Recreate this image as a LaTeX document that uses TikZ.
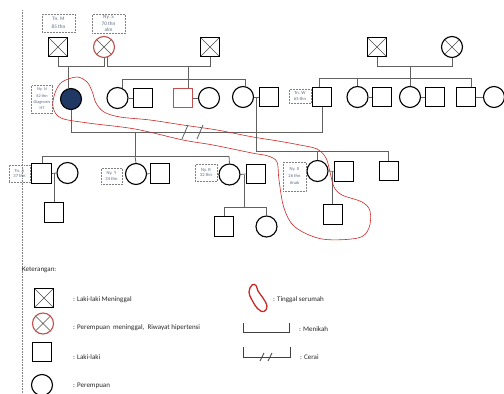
\documentclass[tikz,border=0pt]{standalone}
\usepackage{fontspec}
\setmainfont{Carlito}
\usetikzlibrary{calc}
\definecolor{redc}{RGB}{192,80,77}
\definecolor{navyc}{RGB}{31,56,100}
\definecolor{lblc}{RGB}{90,105,130}
\definecolor{lpc}{RGB}{205,40,40}
\begin{document}
\begin{tikzpicture}[x=1pt,y=-1pt,
  shp/.style={draw=black, line width=1.1pt, inner sep=0pt, fill=white},
  male/.style={shp, rectangle, minimum size=19.5pt},
  female/.style={shp, circle, minimum size=21pt},
  xcross/.style={path picture={\draw[line width=0.5pt, black!70]
      (path picture bounding box.south west) -- (path picture bounding box.north east)
      (path picture bounding box.north west) -- (path picture bounding box.south east);}},
  deadm/.style={male, xcross},
  deadf/.style={female, xcross},
  conn/.style={draw=black!62, line width=0.8pt},
  lbl/.style={draw=black!50, densely dotted, line width=0.5pt, align=center,
      text=lblc, inner sep=0.5pt, font=\fontsize{4.6}{5.6}\selectfont},
  lblbig/.style={lbl, font=\fontsize{5.2}{8}\selectfont},
  legtxt/.style={anchor=west, font=\fontsize{7}{8}\selectfont, text=black!85, inner sep=0pt},
  loop/.style={draw=lpc, line width=0.6pt}
]
\useasboundingbox (0,0) rectangle (504,394);
\coordinate (vt) at (22,10);
\coordinate (vb) at (22,394);
\draw[black!50, densely dotted, line width=0.6pt] (vt) -- (vb);

% ---------- generation 1
\node[deadm] (tnM) at (58,47) {};
\node[deadf, draw=redc] (nyS) at (104,47) {};
\node[deadm] (gfB) at (210,47) {};
\node[deadm] (gfR) at (377,47) {};
\node[deadf] (gmR) at (452,47) {};

\node[lblbig, minimum width=33pt, minimum height=18pt] (lM) at (58.5,23) {Tn. M\\85 thn};
\node[lblbig, minimum width=33pt, minimum height=19pt, font=\fontsize{5.2}{6.4}\selectfont] (lS) at (108.5,23.5) {Ny. S\\70 thn\\alm};

% ---------- generation 2
\node[female, fill=navyc] (nyN) at (71,99) {};
\node[female] (c1) at (117.5,98) {};
\node[male] (s1) at (143,98) {};
\node[male, draw=redc] (rs) at (183,98) {};
\node[female] (c2) at (209,98) {};
\node[female] (c3) at (243,97) {};
\node[male] (s3) at (269,97) {};
\node[male] (tnW) at (322,97) {};
\node[female] (c4) at (357.5,97) {};
\node[male] (s4) at (382,97) {};
\node[female] (c5) at (410,97) {};
\node[male] (s5) at (435,97) {};
\node[male] (s6) at (466,97) {};
\node[female] (c6) at (494,97) {};

\node[lbl, minimum width=21pt, minimum height=28pt, font=\fontsize{4.3}{6.3}\selectfont] (lN) at (42,99) {Ny. N\\62 thn\\Diagnosis\\HT};
\node[lbl, minimum width=22pt, minimum height=14pt] (lW) at (300,96) {Tn. W\\65 thn};

% ---------- generation 3
\node[male] (tnA) at (41.5,173.5) {};
\node[female] (wA) at (67.5,173) {};
\node[female] (nyY) at (136,174) {};
\node[male] (hY) at (160,173.5) {};
\node[female] (nyR) at (229.5,174.5) {};
\node[male] (hR) at (256,174) {};
\node[female] (nyX) at (317.5,171) {};
\node[male] (hX) at (344,171.5) {};
\node[male] (s7) at (389,171) {};

\node[lbl, minimum width=21pt, minimum height=17pt] (lA) at (19.5,173.5) {Tn. A\\37 thn};
\node[lbl, minimum width=21pt, minimum height=16pt] (lY) at (111.5,176) {Ny. Y\\34 thn};
\node[lbl, minimum width=22pt, minimum height=17pt] (lR) at (206,172.5) {Ny. R\\32 thn};
\node[lbl, minimum width=23pt, minimum height=29pt, font=\fontsize{4.6}{7}\selectfont] (lX) at (294.5,176.5) {Ny. X\\26 thn\\Anak};

% ---------- generation 4
\node[male] (kA) at (54,212.5) {};
\node[male] (kR1) at (224,226.5) {};
\node[female] (kR2) at (266.5,226.5) {};
\node[male] (kX) at (333,214.5) {};

% ---------- connectors generation 1
\draw[conn] (tnM.south) -- ++(0,9) -| (nyS.south);
\draw[conn] (nyS.-70) -- ++(0,9.2) -| (gfB.south);
\coordinate (pB) at (188,66);
\coordinate (sbL) at (122,79);
\coordinate (sbR) at (245,79);
\draw[conn] (pB) -- (pB |- sbL);
\draw[conn] (sbL) -- (sbR);
\draw[conn] (sbL) -- (sbL |- c1.65);
\draw[conn] (pB |- sbL) -- (pB |- rs.north);
\draw[conn] (sbR) -- (sbR |- c3.80);
\coordinate (pN) at (68,66);
\draw[conn] (pN) -- (pN |- nyN.100);

\draw[conn] (gfR.south) -- ++(0,9) -| (gmR.south);
\coordinate (pR) at (410,66);
\coordinate (srL) at (319,78);
\coordinate (srR) at (471,78);
\draw[conn] (srL) -- (srR);
\draw[conn] (pR) -- (c5.north);
\draw[conn] (srL) -- (srL |- tnW.north);
\draw[conn] (srL -| c4.north) -- (c4.north);
\draw[conn] (srR) -- (srR |- s6.north);

% couples gen 2
\draw[conn] (c1.east) -- (s1.west);
\draw[conn] (rs.east) -- (c2.west);
\draw[conn] (c3.east) -- (s3.west);
\draw[conn] (c4.east) -- (s4.west);
\draw[conn] (c5.east) -- (s5.west);
\draw[conn] (s6.east) -- (c6.west);

% marriage Ny N - Tn W (divorced)
\draw[conn] (nyN.south) -- ++(0,22) -| (tnW.south);
\coordinate (d1) at (185,132);
\coordinate (d2) at (200,132);
\draw[conn] (d1) ++(-3,7) -- ++(6,-14);
\draw[conn] (d2) ++(-3,7) -- ++(6,-14);

% children of Ny N
\coordinate (pW) at (135,132);
\coordinate (s3L) at (42,156);
\coordinate (s3R) at (229,156);
\draw[conn] (pW) -- (pW |- s3L);
\draw[conn] (s3L) -- (s3R);
\draw[conn] (s3L) -- (s3L |- tnA.north);
\draw[conn] (pW |- s3L) -- (nyY.north);
\draw[conn] (s3R) -- (nyR.north);

% couples gen 3
\draw[conn] (tnA.east) -- (wA.west);
\draw[conn] (nyY.east) -- (hY.west);
\draw[conn] (nyR.east) -- (hR.west);
\draw[conn] (nyX.east) -- (hX.west);

% children of c3-s3
\coordinate (p3) at (256.5,97);
\coordinate (sxL) at (256.5,151);
\coordinate (sxR) at (388,151);
\draw[conn] (p3) -- (sxL) -- (sxR);
\draw[conn] (sxL -| nyX.north) -- (nyX.north);
\draw[conn] (sxR) -- (sxR |- s7.north);

% gen 4 links
\coordinate (pA) at (54,173);
\draw[conn] (pA) -- (kA.north);
\coordinate (pRr) at (244,174.5);
\coordinate (skL) at (224,207);
\coordinate (skR) at (266,207);
\draw[conn] (pRr) -- (pRr |- skL);
\draw[conn] (skL) -- (skR);
\draw[conn] (skL) -- (kR1.north);
\draw[conn] (skR) -- (skR |- kR2.north);
\coordinate (pX) at (332,171.5);
\draw[conn] (pX) -- (pX |- kX.north);

% ---------- living together loop
\draw[loop] plot[smooth cycle, tension=0.55] coordinates {
 (55,93) (62,82) (77,77) (87,82) (92,91) (96,103) (104,112) (120,117) (150,120)
 (183,125) (217,130) (253,137) (278,141) (300,145) (317,149) (326,158) (330,172)
 (334,187) (342,195) (362,202) (370,211) (369,228) (358,238) (322,239) (295,227)
 (284,208) (279,180) (277,162) (268,156) (252,153) (213,145) (183,140) (135,129)
 (88,123) (61,118) (53,107)};

% ---------- legend
\node[legtxt] (ket) at (22,270) {Keterangan:};
\node[deadm] (lg1) at (44,298) {};
\node[deadf, draw=redc] (lg2) at (43,323.5) {};
\node[male] (lg3) at (42,352) {};
\node[female] (lg4) at (42,385) {};
\node[legtxt] (t1) at (73,300) {: Laki-laki Meninggal};
\node[legtxt] (t2) at (73,328) {: Perempuan \ meninggal, \ Riwayat hipertensi};
\node[legtxt] (t3) at (73,357) {: Laki-laki};
\node[legtxt] (t4) at (73,386) {: Perempuan};

\draw[draw=lpc, line width=1.3pt] plot[smooth cycle, tension=0.7] coordinates {
 (252,285) (249,292) (252,300) (258,309) (264,311.5) (267,306) (263,298) (258,291) (256,285.5)};
\node[legtxt] (t5) at (273,300) {: Tinggal serumah};

\coordinate (m1) at (243,323);
\coordinate (m2) at (289,323);
\draw[conn, black!75] (m1) -- ++(0,9) -| (m2);
\node[legtxt] (t6) at (299,329) {: Menikah};

\coordinate (c1a) at (243,347);
\coordinate (c1b) at (290,347);
\draw[conn, black!75] (c1a) -- ++(0,10) -| (c1b);
\coordinate (cs1) at (262,357);
\coordinate (cs2) at (270,357);
\draw[conn, black!75] (cs1) ++(-2,4) -- ++(4,-8);
\draw[conn, black!75] (cs2) ++(-2,4) -- ++(4,-8);
\node[legtxt] (t7) at (300,357) {: Cerai};
\end{tikzpicture}
\end{document}
